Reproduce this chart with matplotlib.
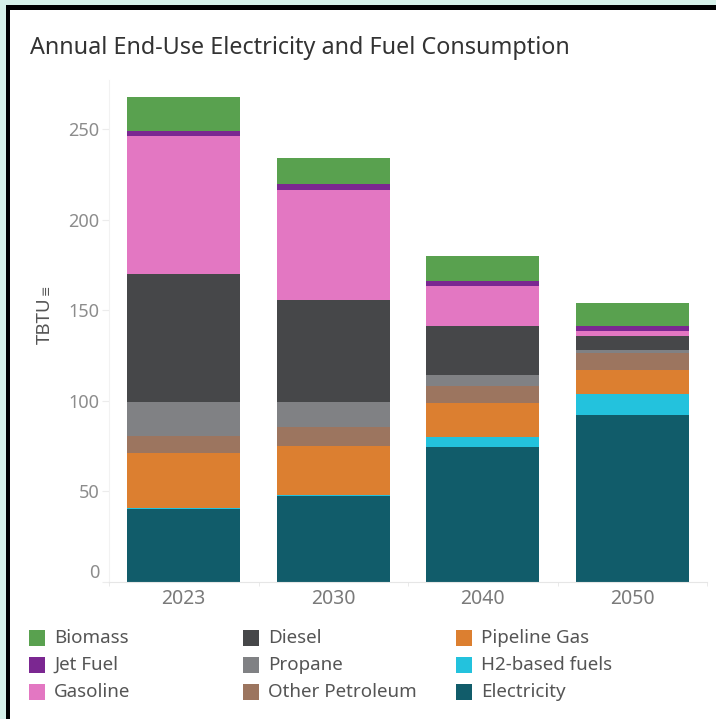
import matplotlib.pyplot as plt
import matplotlib.patches as mpatches
import numpy as np

plt.rcParams['font.family'] = ['Noto Sans', 'DejaVu Sans']

# ---------------- data (TBTU) ----------------
years = ['2023', '2030', '2040', '2050']

# stacked bottom -> top
fuels = ['Electricity', 'H2-based fuels', 'Pipeline Gas', 'Other Petroleum',
         'Propane', 'Diesel', 'Gasoline', 'Jet Fuel', 'Biomass']

electricity = [40.3, 47.5, 74.3, 92.0]
h2_fuels = [0.5, 0.3, 5.9, 11.9]
pipeline_gas = [30.2, 27.3, 18.4, 12.9]
other_petroleum = [9.7, 10.3, 9.7, 9.4]
propane = [18.5, 13.8, 5.9, 1.7]
diesel = [70.8, 56.3, 26.9, 7.9]
gasoline = [76.3, 60.7, 22.1, 2.7]
jet_fuel = [2.4, 3.3, 2.7, 2.6]
biomass = [18.8, 14.3, 14.0, 13.0]

series = [electricity, h2_fuels, pipeline_gas, other_petroleum,
          propane, diesel, gasoline, jet_fuel, biomass]

colors = ['#115c6a', '#23c2dd', '#dc7f30', '#9c755f',
          '#808184', '#464749', '#e377c2', '#7b2791', '#59a14f']

yticks = [0, 50, 100, 150, 200, 250]

# ---------------- figure ----------------
W, H = 716, 719
fig = plt.figure(figsize=(W / 100, H / 100), dpi=100)

# dashboard frame: mint margin + black border
fig.patches.append(mpatches.Rectangle((0, 0), 1, 1, transform=fig.transFigure,
                                      facecolor='#d6f1e9', edgecolor='none', zorder=-3))
fig.patches.append(mpatches.Rectangle((6 / W, 0), 1, 1 - 5 / H, transform=fig.transFigure,
                                      facecolor='black', edgecolor='none', zorder=-2))
fig.patches.append(mpatches.Rectangle((10 / W, 0), 1, 1 - 9.5 / H, transform=fig.transFigure,
                                      facecolor='white', edgecolor='none', zorder=-1))

ax = fig.add_axes([109 / W, 1 - 582 / H, 598 / W, 502 / H])
ax.set_facecolor('none')

x = np.arange(len(years))
bottom = np.zeros(len(years))
for name, vals, c in zip(fuels, series, colors):
    ax.bar(x, vals, width=0.755, bottom=bottom, color=c, label=name,
           edgecolor='none', linewidth=0)
    bottom += np.array(vals)

ax.set_xlim(-0.5, len(years) - 0.5)
ax.set_ylim(0, 277)

ax.set_yticks(yticks)
ylabels = ax.set_yticklabels([str(t) for t in yticks], fontsize=13, color='#8c8c8c')
ylabels[0].set_va('bottom')  # keep the zero label above the baseline
ax.tick_params(axis='y', length=5, width=0.8, color='#ececec', pad=2)

ax.set_xticks(x)
ax.set_xticklabels(years, fontsize=14, color='#7a7a7a')
ax.tick_params(axis='x', length=0, pad=5)
ax.set_xticks(np.arange(-0.5, len(years)), minor=True)
ax.tick_params(axis='x', which='minor', length=3, color='#e6e6e6')

for s in ['top', 'right']:
    ax.spines[s].set_visible(False)
ax.spines['left'].set_color('#f2f2f2')
ax.spines['bottom'].set_color('#e6e6e6')

# title and axis label
fig.text(30 / W, 1 - 48 / H, 'Annual End-Use Electricity and Fuel Consumption',
         fontsize=16.8, color='#333333', ha='left', va='center')
fig.text(45 / W, 1 - 321 / H, 'TBTU', rotation=90, fontsize=13.5, color='#555555',
         ha='center', va='center')
fig.text(46 / W, 1 - 290 / H, '\u2261', rotation=90, fontsize=9, color='#555555',
         ha='center', va='center')

# legend in three columns (top of stack first)
col_x = [29, 243, 456]
row_y = [638, 665, 692]
for i, (name, c) in enumerate(zip(fuels[::-1], colors[::-1])):
    cx = col_x[i // 3]
    cy = row_y[i % 3]
    fig.patches.append(mpatches.Rectangle((cx / W, 1 - (cy + 8) / H), 16 / W, 16 / H,
                                          transform=fig.transFigure,
                                          facecolor=c, edgecolor='none'))
    fig.text((cx + 25) / W, 1 - cy / H, name, fontsize=13.5, color='#555555',
             ha='left', va='center')

fig.savefig('out.png', dpi=100)
